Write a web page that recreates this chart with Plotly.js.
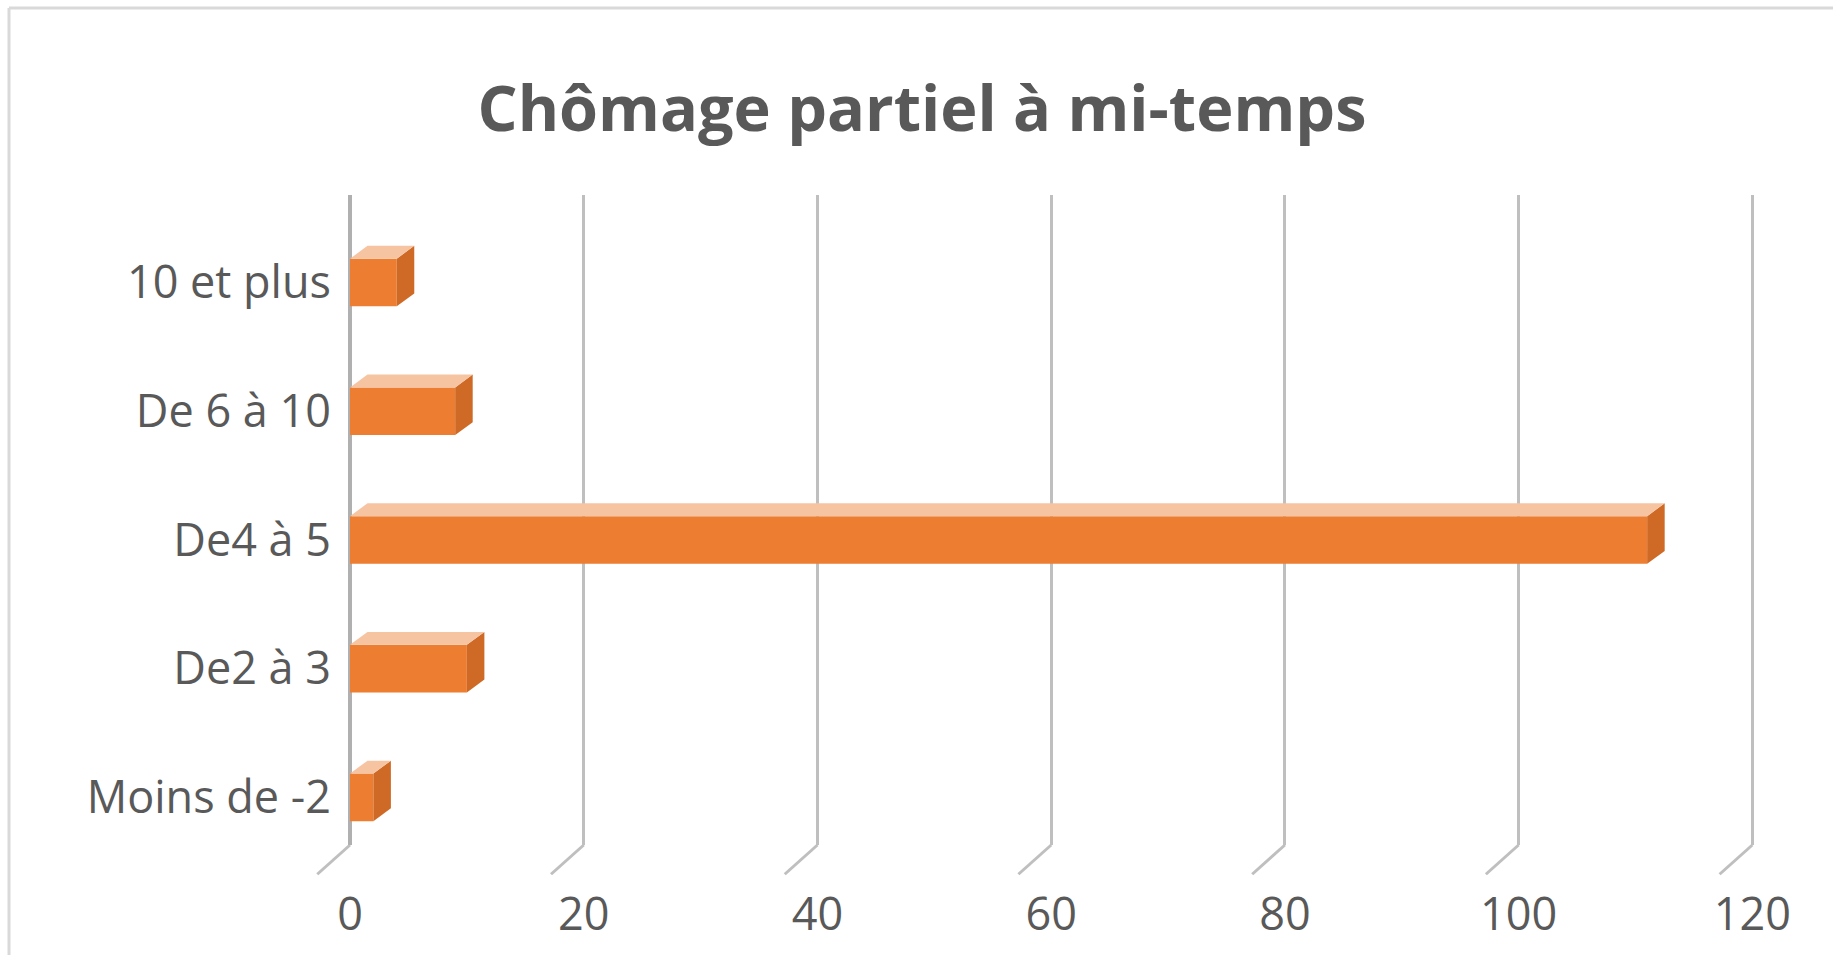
<!DOCTYPE html>
<html>
<head>
<meta charset="utf-8">
<script src="https://cdn.plot.ly/plotly-3.0.1.min.js"></script>
<style>html,body{margin:0;padding:0;background:#fff;}#chart{width:1833px;height:955px;}</style>
</head>
<body>
<div id="chart"></div>
<script>
// Data
const categories = ["Moins de -2", "De2 à 3", "De4 à 5", "De 6 à 10", "10 et plus"];
const values = [2, 10, 111, 9, 4];
const tickValues = [0, 20, 40, 60, 80, 100, 120];
const tickLabels = ["0", "20", "40", "60", "80", "100", "120"];
const chartTitle = "Chômage partiel à mi-temps";

const xMax = 120.4;
const barHalf = 0.185;    // half of bar thickness (category units)
const depthX = 1.5;       // 3D depth offset in x units
const depthY = 0.1;       // 3D depth offset in category units

const shapes = [];
// 3D faces of each bar, computed from the data
values.forEach((v, i) => {
  // side face
  shapes.push({type: 'path', xref: 'x', yref: 'y', layer: 'above',
    path: `M ${v} ${i - barHalf} L ${v} ${i + barHalf} L ${v + depthX} ${i + barHalf + depthY} L ${v + depthX} ${i - barHalf + depthY} Z`,
    fillcolor: '#CF6A26', line: {width: 0}});
  // top face
  shapes.push({type: 'path', xref: 'x', yref: 'y', layer: 'above',
    path: `M 0 ${i + barHalf} L ${v} ${i + barHalf} L ${v + depthX} ${i + barHalf + depthY} L ${depthX} ${i + barHalf + depthY} Z`,
    fillcolor: '#F7C4A2', line: {width: 0}});
});
// floor diagonals at each tick (paper coords derived from tick values)
tickValues.forEach(t => {
  const px = t / xMax;
  shapes.push({type: 'line', xref: 'paper', yref: 'paper', layer: 'below',
    x0: px, y0: 0, x1: px - 2.8 / xMax, y1: -0.045, line: {color: '#BFBFBF', width: 3}});
});

const trace = {
  type: 'bar',
  orientation: 'h',
  y: categories,
  x: values,
  width: barHalf * 2,
  marker: {color: '#ED7D31', line: {width: 0}},
  hoverinfo: 'x+y'
};

const mL = 350, mR = 76, mT = 195, mB = 110;
const plotW = 1833 - mL - mR, plotH = 955 - mT - mB;

const layout = {
  width: 1833,
  height: 955,
  paper_bgcolor: '#ffffff',
  plot_bgcolor: '#ffffff',
  margin: {l: mL, r: mR, t: mT, b: mB},
  title: {
    text: chartTitle,
    x: 0.503, xanchor: 'center',
    y: 1 - 109 / 955, yanchor: 'middle',
    font: {family: 'Open Sans, sans-serif', size: 63, color: '#595959', weight: 700}
  },
  font: {family: 'Open Sans, sans-serif', color: '#595959'},
  showlegend: false,
  xaxis: {
    range: [0, xMax],
    tickvals: tickValues,
    ticktext: tickLabels,
    showgrid: true,
    gridcolor: '#BFBFBF',
    gridwidth: 3,
    zeroline: true,
    zerolinecolor: '#B0B0B0',
    zerolinewidth: 4,
    showline: false,
    ticks: 'outside',
    ticklen: 30,
    tickcolor: 'rgba(0,0,0,0)',
    tickfont: {size: 45, color: '#595959'},
    fixedrange: true
  },
  yaxis: {
    type: 'category',
    categoryorder: 'array',
    categoryarray: categories,
    range: [-0.37, 4.68],
    showgrid: false,
    zeroline: false,
    showline: false,
    ticks: 'outside',
    ticklen: 9,
    tickcolor: 'rgba(0,0,0,0)',
    tickfont: {size: 45, color: '#595959'},
    fixedrange: true
  },
  shapes: shapes
};

// chart border (top and left edges visible)
const bx = (9 - mL) / plotW, by = 1 + (mT - 8) / plotH;
layout.shapes.push({type: 'line', xref: 'paper', yref: 'paper',
  x0: bx, x1: 2, y0: by, y1: by, line: {color: '#D9D9D9', width: 3}});
layout.shapes.push({type: 'line', xref: 'paper', yref: 'paper',
  x0: bx, x1: bx, y0: by, y1: -1, line: {color: '#D9D9D9', width: 3}});

Plotly.newPlot('chart', [trace], layout, {displayModeBar: false, staticPlot: true});
</script>
</body>
</html>
